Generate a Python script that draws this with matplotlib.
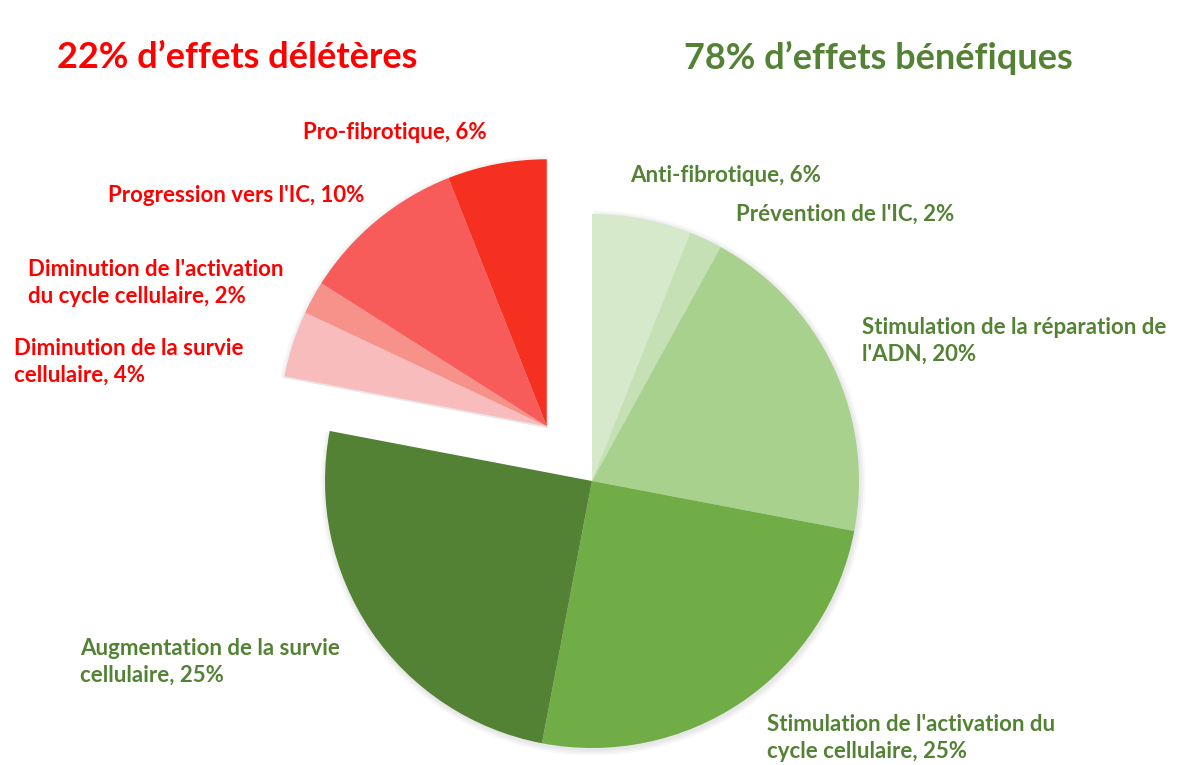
import numpy as np
import matplotlib.pyplot as plt

# parts du camembert, dans l'ordre horaire depuis midi
labels = ["Anti-fibrotique, 6%",
          "Prévention de l'IC, 2%",
          "Stimulation de la réparation de\nl'ADN, 20%",
          "Stimulation de l'activation du\ncycle cellulaire, 25%",
          "Augmentation de la survie\ncellulaire, 25%",
          "Diminution de la survie\ncellulaire, 4%",
          "Diminution de l'activation\ndu cycle cellulaire, 2%",
          "Progression vers l'IC, 10%",
          "Pro-fibrotique, 6%"]
values = [6, 2, 20, 25, 25, 4, 2, 10, 6]
groups = ['b', 'b', 'b', 'b', 'b', 'd', 'd', 'd', 'd']
titles = ["22% d\u2019effets délétères", "78% d\u2019effets bénéfiques"]

colors = ['#d7e9cb', '#c5e0b4', '#a9d18e', '#70ad47', '#548235',
          '#f9bcbc', '#f7928b', '#f85c5a', '#f63021']
GREEN = '#548235'
RED = '#ff0000'

# positions des étiquettes (pixels de l'image, coin gauche, centre vertical)
label_pos = [(630, 175), (736, 214), (862, 341), (767, 738), (80, 662),
             (14, 362), (28, 283), (108, 195), (303, 132)]

W, H = 1185, 765
fig = plt.figure(figsize=(W / 100, H / 100), dpi=100)
ax = fig.add_axes([0, 0, 1, 1])

cx, cy, r = 592, H - 481, 267
font = ['Lato', 'DejaVu Sans']

wedges, _ = ax.pie(values, startangle=90, counterclock=False, radius=r,
                   center=(cx, cy), colors=colors,
                   wedgeprops=dict(linewidth=0))

# le groupe délétère est détaché en bloc vers le haut à gauche
tot = sum(values)
start = sum(v for v, g in zip(values, groups) if g == 'b')
mid = 90 - 360 * (start + (tot - start) / 2) / tot
off = 71
dx, dy = off * np.cos(np.radians(mid)), off * np.sin(np.radians(mid))
for w, g in zip(wedges, groups):
    w.set_zorder(2)
    if g == 'd':
        w.set_center((cx + dx, cy + dy))

# ombre légère sous chaque bloc
for grp, (ox, oy) in [('b', (0, 0)), ('d', (dx, dy))]:
    for k in range(4):
        sh, _ = ax.pie(values, startangle=90, counterclock=False,
                       radius=r + 1 + 1.5 * k, center=(cx + ox + 1, cy + oy - 2),
                       colors=['#000000'] * len(values),
                       wedgeprops=dict(alpha=0.025, linewidth=0))
        for w, g in zip(sh, groups):
            w.set_zorder(0)
            w.set_visible(g == grp)

for lab, (x, y), g in zip(labels, label_pos, groups):
    ax.text(x, H - y, lab, ha='left', va='center', fontsize=16,
            fontweight='bold', color=GREEN if g == 'b' else RED,
            family=font, linespacing=1.3, zorder=3)

ax.text(57, H - 57, titles[0], ha='left', va='center', fontsize=26,
        fontweight='bold', color=RED, family=font)
ax.text(684, H - 58, titles[1], ha='left', va='center', fontsize=26,
        fontweight='bold', color=GREEN, family=font)

ax.set_xlim(0, W)
ax.set_ylim(0, H)
ax.set_aspect('equal')
ax.axis('off')

fig.savefig('out.png', dpi=100)
